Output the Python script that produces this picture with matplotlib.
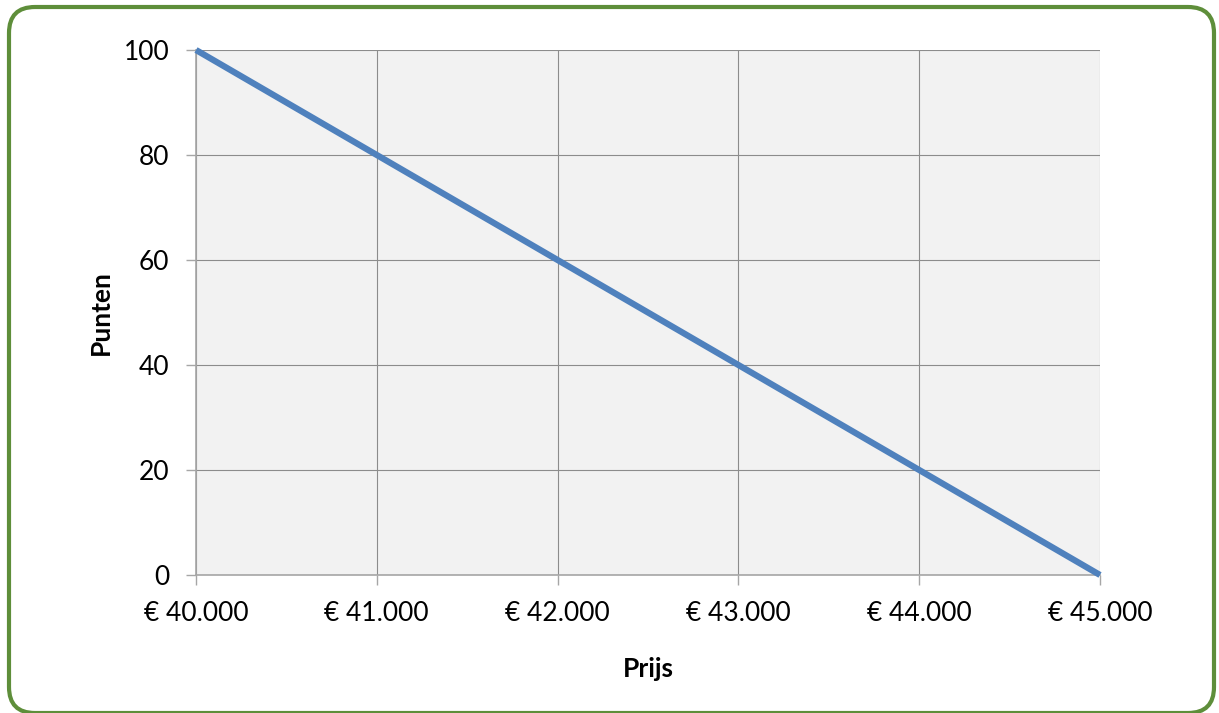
import matplotlib
matplotlib.use("Agg")
import matplotlib.pyplot as plt
from matplotlib.patches import FancyBboxPatch
from matplotlib.transforms import IdentityTransform

prijs = [40000, 41000, 42000, 43000, 44000, 45000]
punten = [100, 80, 60, 40, 20, 0]
x_labels = ['€ 40.000', '€ 41.000', '€ 42.000', '€ 43.000', '€ 44.000', '€ 45.000']
y_ticks = [0, 20, 40, 60, 80, 100]

plt.rcParams['font.family'] = ['Lato', 'DejaVu Sans']

W, H = 1219, 713
fig = plt.figure(figsize=(W / 100, H / 100), dpi=100)

# rounded green border, in pixels (origin bottom-left)
border = FancyBboxPatch((9, 0), 1205, 706,
                        boxstyle="round,pad=0,rounding_size=26",
                        transform=IdentityTransform(), facecolor='none',
                        edgecolor='#5E8E3A', linewidth=3, zorder=-1)
fig.patches.append(border)

ax = fig.add_axes([196 / W, 1 - 575 / H, (1100 - 196) / W, (575 - 50) / H])
ax.set_facecolor('#F2F2F2')
ax.plot(prijs, punten, color='#4F81BD', linewidth=4.5, solid_capstyle='butt', zorder=3, clip_on=False)

ax.set_xlim(40000, 45000)
ax.set_ylim(0, 100)
ax.set_xticks(prijs)
ax.set_xticklabels(x_labels)
ax.set_yticks(y_ticks)
ax.grid(True, color='#8C8C8C', linewidth=0.8)
ax.set_axisbelow(True)

for s in ['top', 'right']:
    ax.spines[s].set_visible(False)
for s in ['left', 'bottom']:
    ax.spines[s].set_color('#A6A6A6')
    ax.spines[s].set_linewidth(1.2)

ax.tick_params(axis='both', length=7, width=1, color='#A6A6A6', labelsize=19)
ax.tick_params(axis='x', pad=12)
ax.tick_params(axis='y', pad=12)
ax.set_xlabel('Prijs', fontsize=19, fontweight='bold', labelpad=22)
ax.set_ylabel('Punten', fontsize=19, fontweight='bold', labelpad=8)

fig.savefig('out.png', dpi=100)
